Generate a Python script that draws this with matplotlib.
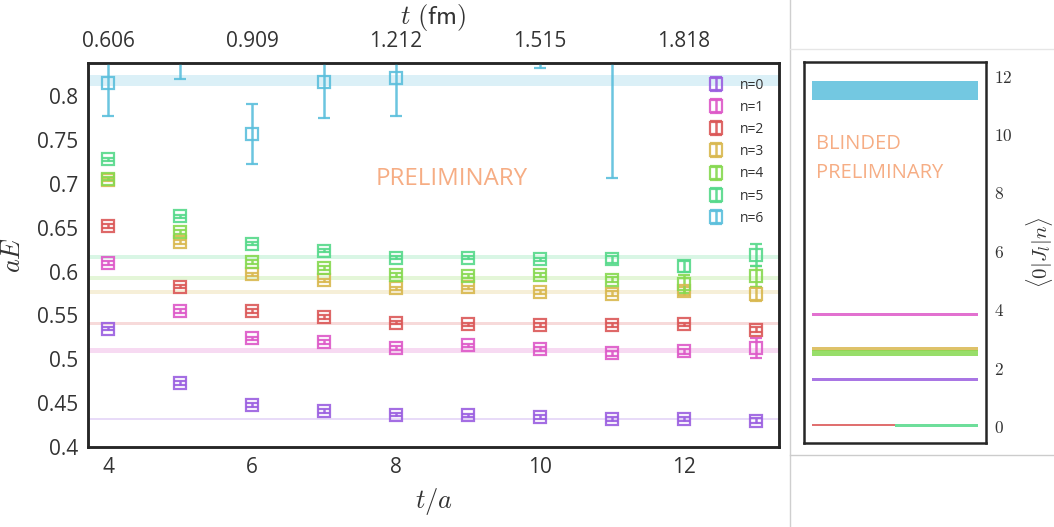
import numpy as np
import matplotlib
matplotlib.use("Agg")
import matplotlib.pyplot as plt
from matplotlib.lines import Line2D
from matplotlib.ticker import FuncFormatter

plt.rcParams['font.family'] = ['Open Sans', 'DejaVu Sans']
plt.rcParams['mathtext.fontset'] = 'cm'

# lattice spacing in fm, used for the top axis
a_fm = 0.1515

t_over_a = [4, 5, 6, 7, 8, 9, 10, 11, 12, 13]
labels = ['n=0', 'n=1', 'n=2', 'n=3', 'n=4', 'n=5', 'n=6']
colors = ['#9a5ee0', '#dd58c8', '#db5757', '#d9b84f', '#86d950', '#55d98a', '#5bbfdc']

# effective energies aE(t) per state
aE_n0 = [0.535, 0.473, 0.448, 0.441, 0.437, 0.436, 0.434, 0.432, 0.432, 0.430]
aE_n1 = [0.610, 0.555, 0.524, 0.520, 0.513, 0.516, 0.512, 0.507, 0.509, 0.513]
aE_n2 = [0.652, 0.583, 0.555, 0.548, 0.542, 0.540, 0.539, 0.539, 0.540, 0.534]
aE_n3 = [0.705, 0.634, 0.597, 0.590, 0.581, 0.582, 0.577, 0.575, 0.578, 0.574]
aE_n4 = [0.706, 0.645, 0.611, 0.604, 0.596, 0.595, 0.596, 0.591, 0.586, 0.595]
aE_n5 = [0.728, 0.663, 0.632, 0.624, 0.616, 0.616, 0.614, 0.614, 0.606, 0.619]
aE_n6 = [0.815, 0.852, 0.757, 0.816, 0.821, np.nan, 0.862, 0.870, np.nan, np.nan]

err_n0 = [0.002, 0.002, 0.002, 0.002, 0.002, 0.002, 0.002, 0.002, 0.002, 0.003]
err_n1 = [0.002, 0.002, 0.002, 0.002, 0.002, 0.002, 0.002, 0.003, 0.003, 0.011]
err_n2 = [0.002, 0.002, 0.002, 0.002, 0.002, 0.002, 0.002, 0.002, 0.002, 0.003]
err_n3 = [0.002, 0.002, 0.002, 0.002, 0.002, 0.002, 0.002, 0.003, 0.005, 0.008]
err_n4 = [0.002, 0.002, 0.002, 0.002, 0.002, 0.002, 0.002, 0.003, 0.010, 0.012]
err_n5 = [0.002, 0.002, 0.002, 0.002, 0.002, 0.002, 0.002, 0.004, 0.006, 0.012]
err_n6 = [0.037, 0.032, 0.034, 0.041, 0.044, np.nan, 0.030, 0.163, np.nan, np.nan]

# fitted energies (bands)
fit_E = [0.432, 0.510, 0.541, 0.577, 0.593, 0.617, 0.818]
fit_E_err = [0.0015, 0.003, 0.0015, 0.002, 0.002, 0.002, 0.0065]

# overlaps <0|J_l|n>
overlap = [1.63, 3.85, 0.06, 2.67, 2.52, 0.04, 11.53]
overlap_err = [0.05, 0.06, 0.035, 0.07, 0.10, 0.055, 0.33]
overlap_x0 = [0, 0, 0, 0, 0, 0.5, 0]
overlap_x1 = [1, 1, 0.5, 1, 1, 1, 1]

aE_all = [aE_n0, aE_n1, aE_n2, aE_n3, aE_n4, aE_n5, aE_n6]
err_all = [err_n0, err_n1, err_n2, err_n3, err_n4, err_n5, err_n6]

spine_col = '#262626'
text_col = '#333333'
wm_col = '#f6ad84'

fig = plt.figure(figsize=(10.54, 5.27), dpi=100)
ax = fig.add_axes([88/1054, 1-447/527, 691/1054, 384/527])
ax2 = fig.add_axes([804/1054, 1-443/527, 182/1054, 381/527])

handles = []
for i in range(len(labels)):
    ax.axhspan(fit_E[i]-fit_E_err[i], fit_E[i]+fit_E_err[i], color=colors[i], alpha=0.22, lw=0, zorder=1)
    h = ax.errorbar(t_over_a, aE_all[i], yerr=err_all[i], fmt='s', mfc='none', mec=colors[i],
                    ms=8, mew=1.6, color=colors[i], elinewidth=1.8, capsize=4, capthick=1.8,
                    alpha=0.9, zorder=3, label=labels[i])
    handles.append(h)

ax.set_xlim(3.72, 13.32)
ax.set_ylim(0.4, 0.838)
ax.set_xticks([4, 6, 8, 10, 12])
ax.set_yticks([0.4, 0.45, 0.5, 0.55, 0.6, 0.65, 0.7, 0.75, 0.8])
ax.set_yticklabels(['0.4', '0.45', '0.5', '0.55', '0.6', '0.65', '0.7', '0.75', '0.8'])
ax.tick_params(length=0, labelsize=15, colors=text_col, pad=7)
ax.set_xlabel('$t/a$', fontsize=19, color=text_col, labelpad=6)
ax.set_ylabel('$aE$', fontsize=19, color=text_col, labelpad=8)
for s in ax.spines.values():
    s.set_color(spine_col)
    s.set_linewidth(1.8)

ax.text(0.527, 0.698, 'PRELIMINARY', transform=ax.transAxes, fontsize=17.3, color=wm_col,
        ha='center', va='center')

leg = ax.legend(handles=handles, loc='upper right', frameon=False, fontsize=10,
                handlelength=1.2, labelspacing=0.52, borderaxespad=0.65, handletextpad=1.1)
for txt in leg.get_texts():
    txt.set_color(text_col)

top = ax.twiny()
top.set_xlim(ax.get_xlim())
top.set_xticks([4, 6, 8, 10, 12])
top.set_xticklabels(['%.3f' % (t * a_fm) for t in [4, 6, 8, 10, 12]])
top.tick_params(length=0, labelsize=15, colors=text_col, pad=8)
top.set_xlabel(r'$t\ \mathsf{(fm)}$', fontsize=19, color=text_col, labelpad=5)
for s in top.spines.values():
    s.set_color(spine_col)
    s.set_linewidth(1.8)

# overlaps panel
for i in range(len(labels)):
    ax2.fill_between([overlap_x0[i], overlap_x1[i]], overlap[i]-overlap_err[i], overlap[i]+overlap_err[i],
                     color=colors[i], alpha=0.85, lw=0)
ax2.set_xlim(-0.05, 1.05)
ax2.set_ylim(-0.55, 12.5)
ax2.set_xticks([])
ax2.set_yticks([0, 2, 4, 6, 8, 10, 12])
ax2.yaxis.tick_right()
ax2.yaxis.set_label_position('right')
ax2.yaxis.set_major_formatter(FuncFormatter(lambda v, p: '$%d$' % v))
ax2.tick_params(length=0, labelsize=12.5, colors=text_col, pad=6)
ax2.set_ylabel(r'$\langle 0|J_l|n\rangle$', fontsize=15, color=text_col, labelpad=8)
for s in ax2.spines.values():
    s.set_color(spine_col)
    s.set_linewidth(1.8)
ax2.text(0.066, 0.747, 'BLINDED\nPRELIMINARY', transform=ax2.transAxes, fontsize=14.5,
         color=wm_col, ha='left', va='center', linespacing=1.6)

# frame lines of the composite figure
fig.add_artist(Line2D([790/1054, 790/1054], [0, 1], transform=fig.transFigure, color='#cfcfcf', lw=1))
fig.add_artist(Line2D([790/1054, 1], [1-49/527, 1-49/527], transform=fig.transFigure, color='#e6e6e6', lw=1))
fig.add_artist(Line2D([790/1054, 1], [1-455/527, 1-455/527], transform=fig.transFigure, color='#cccccc', lw=1))

fig.savefig('out.png', dpi=100)
